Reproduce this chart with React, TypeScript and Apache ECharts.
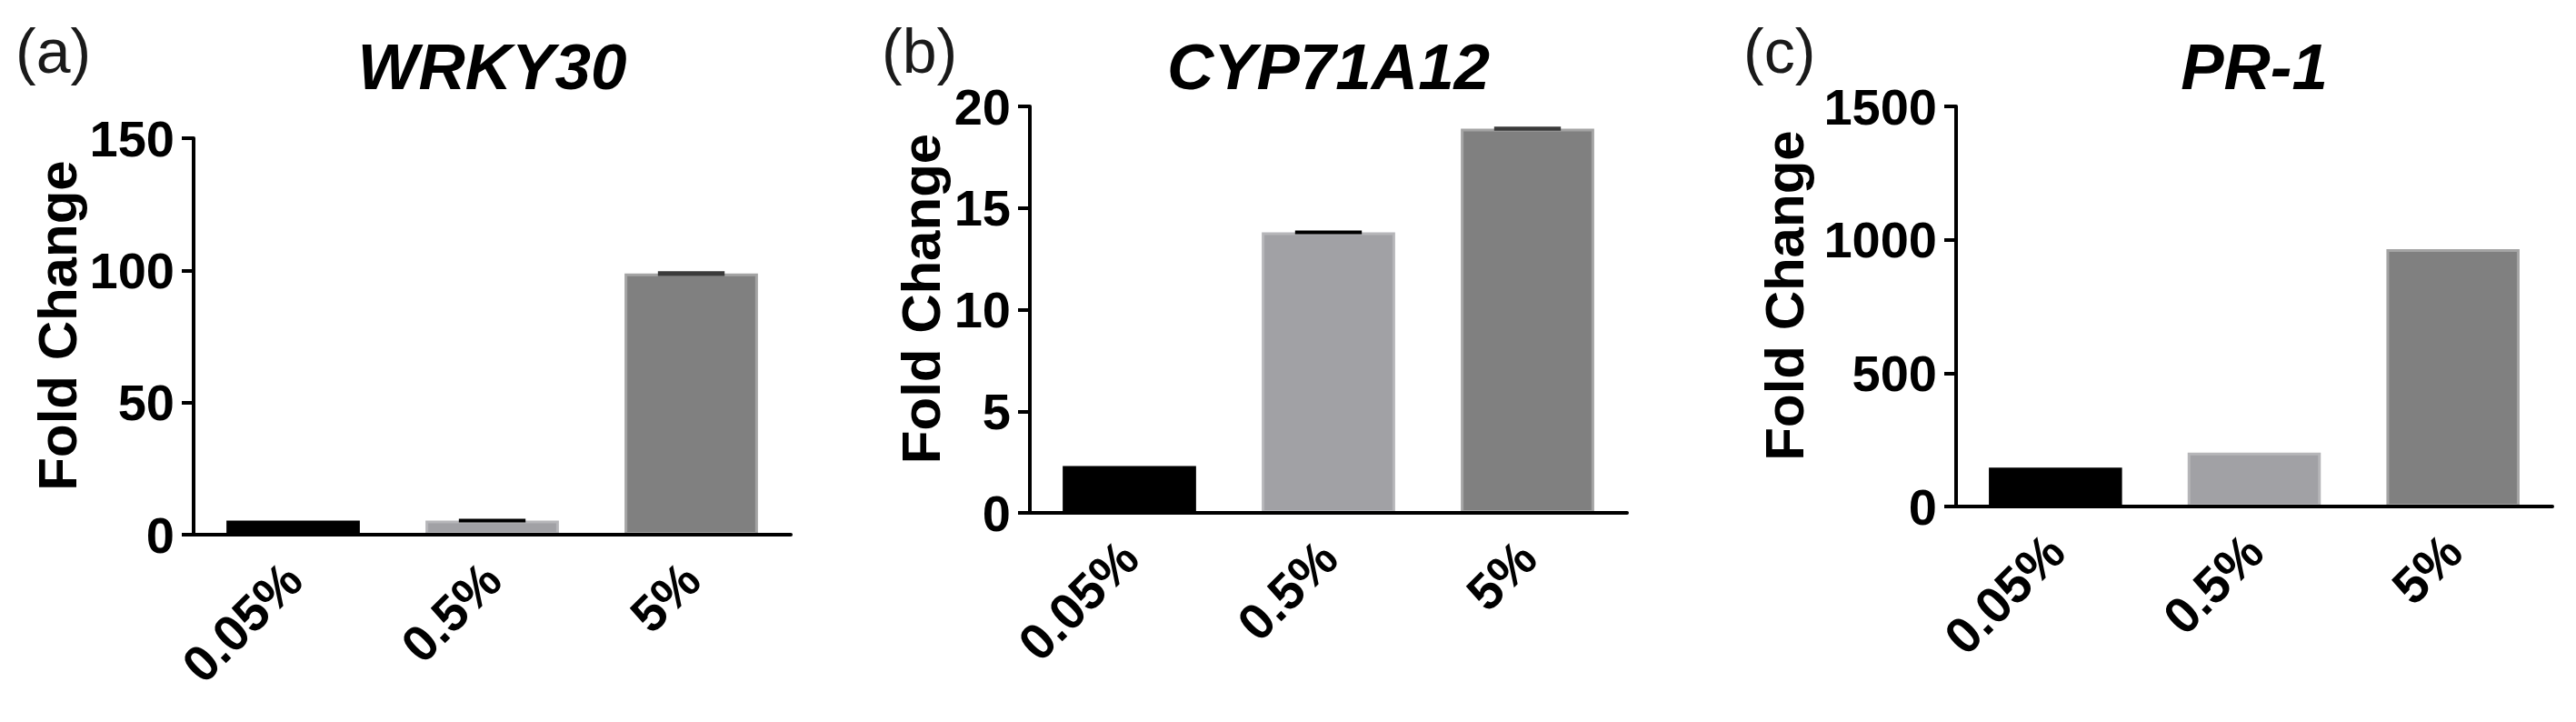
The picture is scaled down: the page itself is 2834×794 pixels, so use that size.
import React, { useEffect, useRef } from "react";
import * as echarts from "echarts";

// ---- data ----
const categories = ["0.05%", "0.5%", "5%"];
const panelLetters = ["(a)", "(b)", "(c)"];
const geneNames = ["WRKY30", "CYP71A12", "PR-1"];
const yAxisName = "Fold Change";

const wrkyValues = [5.3, 5.3, 98.8];
const wrkyErrors = [0, 0.4, 0.9];
const cypValues = [2.3, 13.8, 18.9];
const cypErrors = [0, 0.08, 0.1];
const prValues = [146, 202, 965];
const prErrors = [0, 0, 0];

const wrkyTicks = { max: 150, interval: 50 };
const cypTicks = { max: 20, interval: 5 };
const prTicks = { max: 1500, interval: 500 };

// ---- style ----
const barColors = ["#000000", "#a1a1a5", "#808080"];
const barBorders = ["#000000", "#b6b6b9", "#a4a4a4"];
const capColors = ["#000000", "#000000", "#3a3a3a"];
const FONT = "'Liberation Sans', Arial, Helvetica, sans-serif";

// ---- layout (pixels) ----
const grids = [
  { left: 213, top: 152, width: 657, height: 436, nameGap: 120, letterX: 17 },
  { left: 1133, top: 117, width: 657, height: 447, nameGap: 90, letterX: 970 },
  { left: 2152, top: 117, width: 656, height: 440, nameGap: 159, letterX: 1918 },
];

const valueSets = [wrkyValues, cypValues, prValues];
const errorSets = [wrkyErrors, cypErrors, prErrors];
const tickSets = [wrkyTicks, cypTicks, prTicks];

export default function App() {
  const ref = useRef<HTMLDivElement>(null);

  useEffect(() => {
    if (!ref.current) return;
    const chart = echarts.init(ref.current, undefined, { renderer: "svg" });

    const gridOpts: any[] = [];
    const xAxes: any[] = [];
    const yAxes: any[] = [];
    const series: any[] = [];
    const graphics: any[] = [];

    grids.forEach((g, i) => {
      gridOpts.push({
        left: g.left,
        top: g.top,
        width: g.width,
        height: g.height,
        containLabel: false,
        outerBoundsMode: "none",
      });
      xAxes.push({
        type: "category",
        gridIndex: i,
        data: categories,
        z: 10,
        axisLine: { lineStyle: { color: "#000", width: 4 } },
        axisTick: { alignWithLabel: true, length: 18, lineStyle: { color: "#000", width: 4 } },
        axisLabel: {
          interval: 0,
          rotate: 45,
          margin: 40,
          color: "#000",
          fontSize: 56,
          fontWeight: "bold",
          fontFamily: FONT,
        },
        splitLine: { show: false },
      });
      const t = tickSets[i];
      yAxes.push({
        type: "value",
        gridIndex: i,
        min: 0,
        max: t.max,
        interval: t.interval,
        z: 10,
        name: yAxisName,
        nameLocation: "middle",
        nameRotate: 90,
        nameGap: g.nameGap,
        nameMoveOverlap: false,
        nameTextStyle: {
          color: "#000",
          fontSize: 60,
          fontWeight: "bold",
          fontFamily: FONT,
          padding: [0, 0, 0, 24],
        },
        axisLine: { show: true, lineStyle: { color: "#000", width: 4 } },
        axisTick: { show: true, length: 13, lineStyle: { color: "#000", width: 4 } },
        axisLabel: {
          margin: 21,
          color: "#000",
          fontSize: 56,
          fontWeight: "bold",
          fontFamily: FONT,
          formatter: (v: number) => String(v),
        },
        splitLine: { show: false },
      });
      series.push({
        type: "bar",
        xAxisIndex: i,
        yAxisIndex: i,
        barWidth: "67%",
        z: 2,
        data: valueSets[i].map((v, k) => ({
          value: v,
          itemStyle: { color: barColors[k], borderColor: barBorders[k], borderWidth: 3 },
        })),
      });
      const errData = valueSets[i]
        .map((v, k) => [k, v, errorSets[i][k]])
        .filter((d) => d[2] > 0);
      series.push({
        type: "custom",
        xAxisIndex: i,
        yAxisIndex: i,
        z: 5,
        encode: { x: 0, y: 1 },
        data: errData,
        renderItem: (params: any, api: any) => {
          const idx = api.value(0);
          const v = api.value(1);
          const e = api.value(2);
          const top = api.coord([idx, v + e]);
          const bot = api.coord([idx, v - e]);
          const w = api.size([1, 0])[0] * 0.67 * 0.5;
          let y = top[1];
          let h = bot[1] - top[1];
          if (h < 4) {
            y = (top[1] + bot[1]) / 2 - 2;
            h = 4;
          }
          return {
            type: "rect",
            shape: { x: top[0] - w / 2, y, width: w, height: h },
            style: { fill: capColors[idx] },
          };
        },
      });
      graphics.push({
        type: "text",
        left: g.letterX,
        top: 22,
        style: {
          text: panelLetters[i],
          fontSize: 68,
          fontFamily: FONT,
          fontWeight: "normal",
          fill: "#1a1a1a",
        },
      });
      graphics.push({
        type: "text",
        x: g.left + g.width / 2,
        y: 73,
        style: {
          text: geneNames[i],
          fontSize: 71,
          fontFamily: FONT,
          fontWeight: "bold",
          fontStyle: "italic",
          fill: "#000",
          align: "center",
          verticalAlign: "middle",
        },
      });
    });

    chart.setOption({
      animation: false,
      backgroundColor: "#ffffff",
      grid: gridOpts,
      xAxis: xAxes,
      yAxis: yAxes,
      series,
      graphic: graphics,
    });

    return () => chart.dispose();
  }, []);

  return (
    <div
      ref={ref}
      style={{ position: "absolute", left: 0, top: 0, width: 2834, height: 794 }}
    />
  );
}
